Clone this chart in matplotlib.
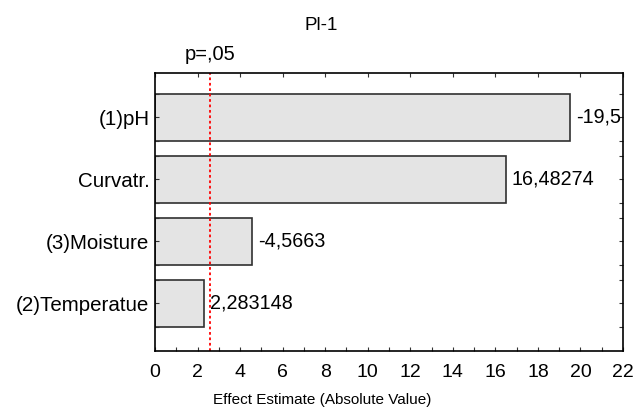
import matplotlib
matplotlib.use("Agg")
import matplotlib.pyplot as plt
from matplotlib.ticker import MultipleLocator, FixedLocator

# data
factors = ["(1)pH", "Curvatr.", "(3)Moisture", "(2)Temperatue"]
effects = [-19.5, 16.48274, -4.5663, 2.283148]
value_labels = ["-19,5", "16,48274", "-4,5663", "2,283148"]
p_crit = 2.57

plt.rcParams['font.family'] = ['Liberation Sans', 'DejaVu Sans']

fig = plt.figure(figsize=(6.36, 4.07), dpi=100)
ax = fig.add_axes([0.2437, 0.1376, 0.7359, 0.6838])

pos = list(range(len(factors)))
abs_eff = [abs(v) for v in effects]
ax.barh(pos, abs_eff, height=0.76, color='#e4e4e4', edgecolor='#303030', linewidth=1.2)

# value labels next to each bar
for p, v, lab in zip(pos, abs_eff, value_labels):
    ax.annotate(lab, xy=(v, p), xytext=(4.5, 0), textcoords='offset points',
                va='center', ha='left', fontsize=14.2)

# significance line
ax.axvline(p_crit, color='red', linestyle=(0, (1.5, 1.5)), linewidth=1.3)
ax.annotate("p=,05", xy=(p_crit, 1.0), xycoords=('data', 'axes fraction'),
            xytext=(0, 6.5), textcoords='offset points', ha='center', va='bottom',
            fontsize=14.5)

ax.set_xlim(0, 22)
ax.set_ylim(3.77, -0.72)
ax.xaxis.set_major_locator(MultipleLocator(2))
ax.xaxis.set_minor_locator(MultipleLocator(1))
ax.set_yticks(pos)
ax.set_yticklabels(factors)
edges = []
for p in pos:
    edges += [p - 0.38, p + 0.38]
ax.yaxis.set_minor_locator(FixedLocator(edges))

ax.tick_params(axis='both', which='both', direction='in', top=True, right=True,
               length=3, width=0.8, colors='#333333', labelcolor='black')
ax.tick_params(axis='x', which='minor', top=False)
ax.tick_params(axis='x', labelsize=14, pad=9.5)
ax.tick_params(axis='y', labelsize=14.8, pad=4)

for s in ax.spines.values():
    s.set_linewidth(1.2)
    s.set_color('black')

fig.text(321 / 636, 1 - 25 / 407, "Pl-1", ha='center', va='center', fontsize=13.5)
fig.text(322 / 636, 1 - 400 / 407, "Effect Estimate (Absolute Value)",
         ha='center', va='center', fontsize=11)

fig.savefig("out.png", dpi=100)
